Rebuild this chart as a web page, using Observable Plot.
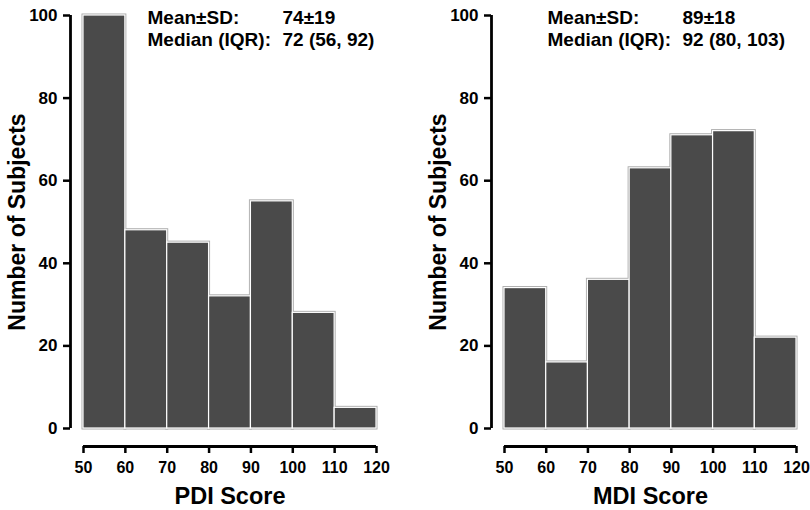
<!DOCTYPE html>
<html>
<head>
<meta charset="utf-8">
<script src="https://cdn.jsdelivr.net/npm/d3@7"></script>
<script src="https://cdn.jsdelivr.net/npm/@observablehq/plot@0.6"></script>
<style>
  html, body { margin: 0; padding: 0; background: #fff; }
  #wrap { display: flex; width: 810px; height: 510px; }
  svg { font-family: "Liberation Sans", Arial, sans-serif; font-weight: bold; }
</style>
</head>
<body>
<div id="wrap"></div>
<script>
const binStarts = [50, 60, 70, 80, 90, 100, 110];
const binWidth = 10;
const xTicks = [50, 60, 70, 80, 90, 100, 110, 120];
const yTicks = [0, 20, 40, 60, 80, 100];
const pdiCounts = [100, 48, 45, 32, 55, 28, 5];
const mdiCounts = [34, 16, 36, 63, 71, 72, 22];
const pdiStats = ["74±19", "72 (56, 92)"];
const mdiStats = ["89±18", "92 (80, 103)"];
const statLabels = ["Mean±SD:", "Median (IQR):"];

function panel(counts, stats, xLabel, mLeft, mRight, annLabelX, annValueX) {
  const data = binStarts.map((s, i) => ({x1: s, x2: s + binWidth, y: counts[i]}));
  const annMarks = [];
  statLabels.forEach((l, i) => {
    annMarks.push(Plot.text([l], {frameAnchor: "top-left", dx: annLabelX, dy: 2.5 + i * 22, textAnchor: "start", fontSize: 19, fill: "#000", lineAnchor: "middle"}));
    annMarks.push(Plot.text([stats[i]], {frameAnchor: "top-left", dx: annValueX, dy: 2.5 + i * 22, textAnchor: "start", fontSize: 19, fill: "#000", lineAnchor: "middle"}));
  });
  return Plot.plot({
    width: 405, height: 510,
    marginLeft: mLeft, marginRight: mRight, marginTop: 15, marginBottom: 82,
    x: {type: "linear", domain: [50, 120], axis: null},
    y: {type: "linear", domain: [0, 100], axis: null},
    style: {fontFamily: "Liberation Sans, Arial, sans-serif", fontWeight: "bold", overflow: "visible"},
    marks: [
      Plot.rectY(data, {x1: "x1", x2: "x2", y: "y", fill: "#4a4a4a", stroke: "#aaa", strokeWidth: 3}),
      Plot.rectY(data, {x1: "x1", x2: "x2", y: "y", fill: "#4a4a4a", stroke: "#fff", strokeWidth: 1.2}),
      // y axis
      Plot.ruleX([50], {x: d => d, y1: 0, y2: 100, dx: -13, stroke: "#000", strokeWidth: 2.8}),
      Plot.ruleY(yTicks, {y: d => d, x1: 50, x2: 50, dx: -13, insetLeft: -7, stroke: "#000", strokeWidth: 2.5}),
      Plot.text(yTicks, {y: d => d, x: 50, dx: -26, text: d => String(d), textAnchor: "end", fontSize: 17, fill: "#000"}),
      // x axis
      Plot.ruleY([0], {y: d => d, x1: 50, x2: 120, dy: 18, stroke: "#000", strokeWidth: 2.8}),
      Plot.ruleX(xTicks, {x: d => d, y1: 0, y2: 0, dy: 18, insetBottom: -7, stroke: "#000", strokeWidth: 2.5}),
      Plot.text(xTicks, {x: d => d, y: 0, dy: 39, text: d => String(d), fontSize: 16, fill: "#000"}),
      // axis titles
      Plot.text([xLabel], {frameAnchor: "bottom", dy: 68, fontSize: 23.5, fill: "#000", lineAnchor: "middle"}),
      Plot.text(["Number of Subjects"], {frameAnchor: "left", dx: -66, rotate: -90, textAnchor: "middle", fontSize: 23, fill: "#000"}),
      ...annMarks
    ]
  });
}

const wrap = document.getElementById("wrap");
wrap.appendChild(panel(pdiCounts, pdiStats, "PDI Score", 83, 29, 64, 199));
wrap.appendChild(panel(mdiCounts, mdiStats, "MDI Score", 99, 14, 43, 178));
</script>
</body>
</html>
